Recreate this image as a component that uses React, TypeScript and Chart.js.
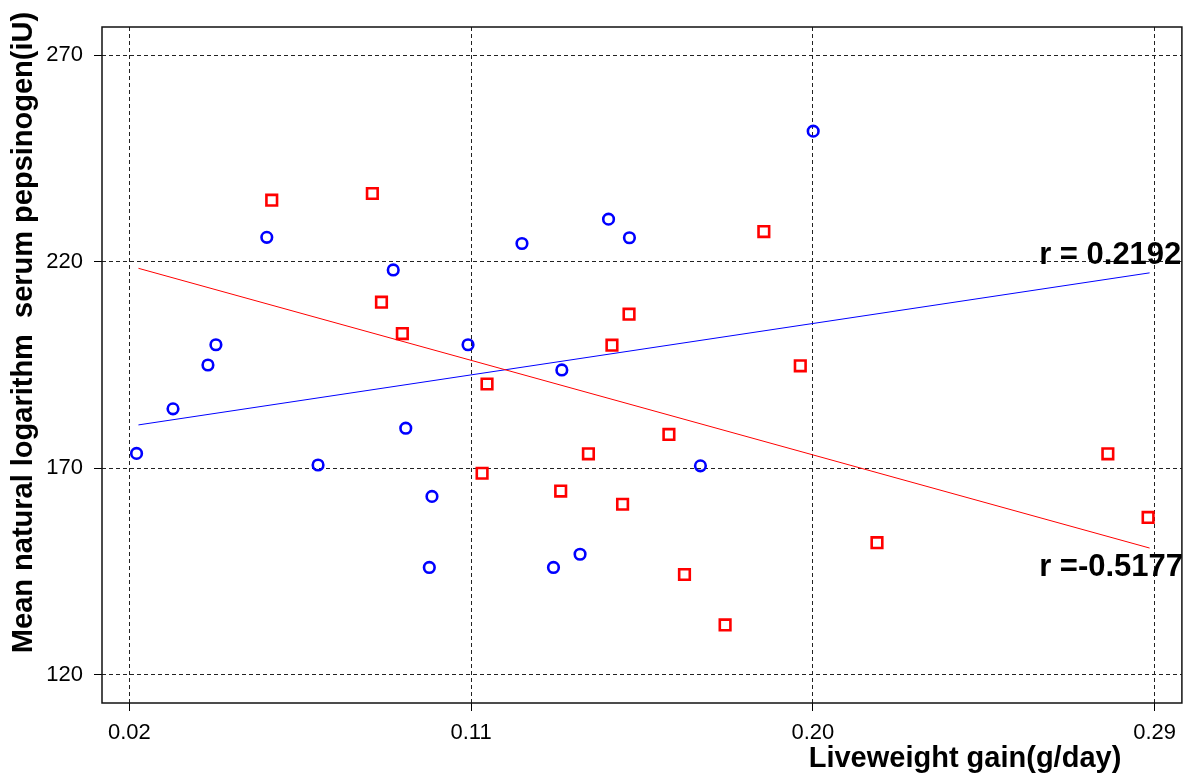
import React, { useEffect, useRef } from 'react';
import { Chart, registerables } from 'chart.js';

Chart.register(...registerables);

// ---- data ----
const xTicks = [0.02, 0.11, 0.2, 0.29];
const xTickLabels = ['0.02', '0.11', '0.20', '0.29'];
const yTicks = [120, 170, 220, 270];
const yTickLabels = ['120', '170', '220', '270'];

const blueX = [0.0219, 0.0315, 0.0407, 0.0428, 0.0562, 0.0697, 0.0895, 0.0928, 0.0997, 0.099, 0.1092, 0.1234, 0.1339, 0.1317, 0.1387, 0.1462, 0.1517, 0.1704, 0.2001];
const blueY = [173.6, 184.4, 195.0, 199.9, 225.9, 170.8, 218.0, 179.7, 163.2, 146.0, 199.9, 224.4, 193.8, 146.0, 149.2, 230.3, 225.8, 170.6, 251.6];

const redX = [0.0575, 0.084, 0.0864, 0.0919, 0.1129, 0.1142, 0.1336, 0.1409, 0.1471, 0.1499, 0.1516, 0.1621, 0.1662, 0.1769, 0.1871, 0.1967, 0.2169, 0.2777, 0.2883];
const redY = [234.9, 236.5, 210.2, 202.6, 168.8, 190.4, 164.5, 173.5, 199.8, 161.3, 207.3, 178.2, 144.3, 132.1, 227.3, 194.8, 152.0, 173.5, 158.1];

const fitX = [0.0224, 0.2887];
const blueFitY = [180.5, 217.3];
const redFitY = [218.4, 150.7];

const rLabels = ['r = 0.2192', 'r =-0.5177'];
const xTitle = 'Liveweight gain(g/day)';
const yTitle = 'Mean natural logarithm  serum pepsinogen(iU)';

const FONT = '"Liberation Sans", Arial, sans-serif';

const overlay = {
  id: 'overlay',
  afterDraw(chart: any) {
    const { ctx, chartArea: a, scales } = chart;
    ctx.save();
    ctx.strokeStyle = '#111';
    ctx.lineWidth = 1.5;
    ctx.setLineDash([]);
    ctx.strokeRect(a.left, a.top, a.right - a.left, a.bottom - a.top);

    ctx.fillStyle = '#000';
    ctx.font = 'bold 31px ' + FONT;
    ctx.textAlign = 'left';
    ctx.textBaseline = 'alphabetic';
    const lx = scales.x.getPixelForValue(0.2596);
    ctx.fillText(rLabels[0], lx, scales.y.getPixelForValue(219.4));
    ctx.fillText(rLabels[1], lx, scales.y.getPixelForValue(143.9));

    ctx.font = 'bold 29px ' + FONT;
    ctx.textAlign = 'center';
    ctx.fillText(xTitle, 965, 767);

    ctx.translate(31.7, 332.5);
    ctx.rotate(-Math.PI / 2);
    ctx.fillText(yTitle, 0, 0);
    ctx.restore();
  },
};

const gridOpts = {
  color: '#222',
  lineWidth: 1,
  tickBorderDash: [],
  tickLength: 8,
  tickColor: '#000',
  tickWidth: 1,
};

export default function App() {
  const ref = useRef<HTMLCanvasElement | null>(null);

  useEffect(() => {
    document.body.style.margin = '0';
    const canvas = ref.current;
    if (!canvas) return;
    const chart = new Chart(canvas, {
      type: 'scatter',
      data: {
        datasets: [
          {
            type: 'line',
            data: fitX.map((x, i) => ({ x, y: redFitY[i] })),
            borderColor: '#ff0000',
            borderWidth: 1,
            pointRadius: 0,
            showLine: true,
            fill: false,
          } as any,
          {
            type: 'line',
            data: fitX.map((x, i) => ({ x, y: blueFitY[i] })),
            borderColor: '#0000ff',
            borderWidth: 1,
            pointRadius: 0,
            showLine: true,
            fill: false,
          } as any,
          {
            data: blueX.map((x, i) => ({ x, y: blueY[i] })),
            pointStyle: 'circle',
            pointRadius: 5.3,
            borderWidth: 2.6,
            borderColor: '#0000ff',
            backgroundColor: 'rgba(0,0,0,0)',
          },
          {
            data: redX.map((x, i) => ({ x, y: redY[i] })),
            pointStyle: 'rect',
            pointRadius: 7.5,
            borderWidth: 2.6,
            borderColor: '#ff0000',
            backgroundColor: 'rgba(0,0,0,0)',
          },
        ],
      },
      options: {
        animation: false,
        responsive: false,
        devicePixelRatio: 1,
        layout: { padding: { left: 0, right: 7, top: 27, bottom: 0 } },
        plugins: { legend: { display: false }, tooltip: { enabled: false }, title: { display: false } },
        scales: {
          x: {
            type: 'linear',
            min: 0.0128,
            max: 0.2972,
            afterBuildTicks: (s: any) => {
              s.ticks = xTicks.map((v) => ({ value: v }));
            },
            afterFit: (s: any) => {
              s.height = 70;
            },
            ticks: {
              autoSkip: false,
              maxRotation: 0,
              padding: 9,
              color: '#000',
              font: { family: FONT, size: 22 },
              callback: (_v: any, i: number) => xTickLabels[i],
            },
            grid: gridOpts,
            border: { display: false, dash: [4, 3] },
          },
          y: {
            type: 'linear',
            min: 113.2,
            max: 276.8,
            afterBuildTicks: (s: any) => {
              s.ticks = yTicks.map((v) => ({ value: v }));
            },
            afterFit: (s: any) => {
              s.width = 102;
            },
            ticks: {
              autoSkip: false,
              padding: 11,
              color: '#000',
              font: { family: FONT, size: 22 },
              callback: (_v: any, i: number) => yTickLabels[i],
            },
            grid: gridOpts,
            border: { display: false, dash: [4, 3] },
          },
        },
      },
      plugins: [overlay],
    });
    return () => chart.destroy();
  }, []);

  return <canvas ref={ref} width={1192} height={773} style={{ display: 'block' }} />;
}
